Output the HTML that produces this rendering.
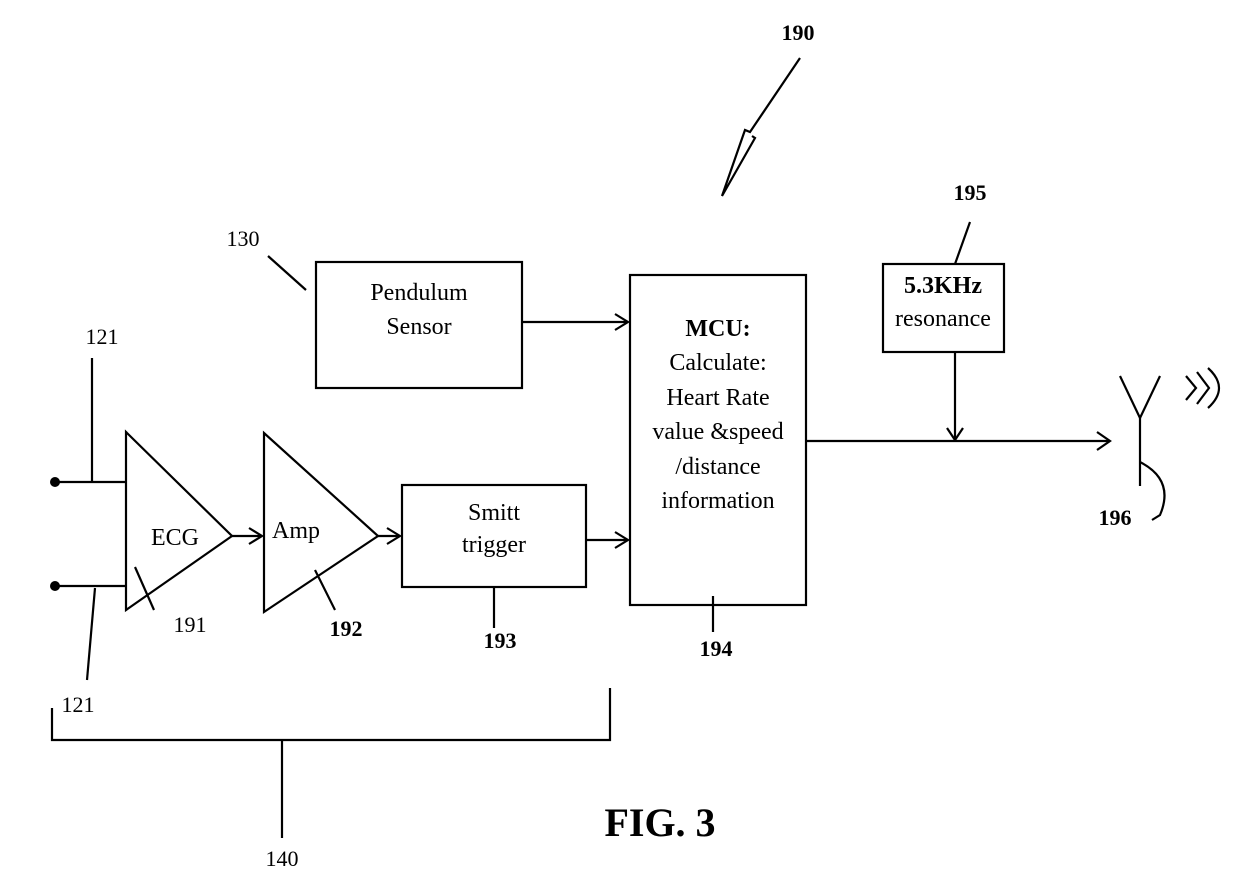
<!DOCTYPE html>
<html><head><style>body{margin:0;background:#fff}svg{display:block}text{font-family:"Liberation Serif",serif;fill:#000}</style></head><body>
<svg width="1240" height="880" viewBox="0 0 1240 880" xmlns="http://www.w3.org/2000/svg">
<g stroke="#000" stroke-width="2.2" fill="none">
<rect x="316" y="262" width="206" height="126"/>
<rect x="630" y="275" width="176" height="330"/>
<rect x="883" y="264" width="121" height="88"/>
<rect x="402" y="485" width="184" height="102"/>
<polygon points="126,432 126,610 232,536"/>
<polygon points="264,433 264,612 378,536"/>
<line x1="55" y1="482" x2="126" y2="482"/>
<line x1="55" y1="586" x2="126" y2="586"/>
<line x1="92" y1="358" x2="92" y2="482"/>
<line x1="95" y1="588" x2="87" y2="680"/>
<line x1="232" y1="536" x2="262" y2="536"/><polyline points="249,528 262,536 249,544"/>
<line x1="378" y1="536" x2="400" y2="536"/><polyline points="387,528 400,536 387,544"/>
<line x1="586" y1="540" x2="628" y2="540"/><polyline points="615,532 628,540 615,548"/>
<line x1="522" y1="322" x2="628" y2="322"/><polyline points="615,314 628,322 615,330"/>
<line x1="806" y1="441" x2="1110" y2="441"/><polyline points="1097,432 1110,441 1097,450"/>
<line x1="955" y1="352" x2="955" y2="440"/><polyline points="947,428 955,440 963,428"/>
<line x1="1120" y1="376" x2="1140" y2="418"/><line x1="1160" y1="376" x2="1140" y2="418"/><line x1="1140" y1="418" x2="1140" y2="486"/>
<path d="M1140,462 Q1175,480 1160,515 L1152,520"/>
<path d="M1186,376 L1196,388 L1186,400"/><path d="M1197,372 L1209,388 L1197,404"/><path d="M1208,368 Q1230,388 1208,408"/>
<line x1="306" y1="290" x2="268" y2="256"/>
<line x1="135" y1="567" x2="154" y2="610"/>
<line x1="315" y1="570" x2="335" y2="610"/>
<line x1="494" y1="587" x2="494" y2="628"/>
<line x1="713" y1="596" x2="713" y2="632"/>
<line x1="970" y1="222" x2="955" y2="264"/>
<polyline points="800,58 750,132 745,130 722,196 755,138 752,136"/>
<polyline points="52,708 52,740 610,740 610,688"/>
<line x1="282" y1="740" x2="282" y2="838"/>
</g>
<circle cx="55" cy="482" r="5"/><circle cx="55" cy="586" r="5"/>
<g font-size="24" text-anchor="middle">
<text x="419" y="300">Pendulum</text><text x="419" y="334">Sensor</text>
<text x="718" y="336" font-weight="bold">MCU:</text>
<text x="718" y="370">Calculate:</text><text x="718" y="405">Heart Rate</text>
<text x="718" y="439">value &amp;speed</text><text x="718" y="474">/distance</text><text x="718" y="508">information</text>
<text x="943" y="293" font-weight="bold">5.3KHz</text><text x="943" y="326">resonance</text>
<text x="494" y="520">Smitt</text><text x="494" y="552">trigger</text>
<text x="175" y="545">ECG</text><text x="296" y="538">Amp</text>
</g>
<g font-size="22" text-anchor="middle">
<text x="798" y="40" font-weight="bold">190</text>
<text x="243" y="246">130</text>
<text x="102" y="344">121</text>
<text x="78" y="712">121</text>
<text x="190" y="632">191</text>
<text x="346" y="636" font-weight="bold">192</text>
<text x="500" y="648" font-weight="bold">193</text>
<text x="716" y="656" font-weight="bold">194</text>
<text x="970" y="200" font-weight="bold">195</text>
<text x="1115" y="525" font-weight="bold">196</text>
<text x="282" y="866">140</text>
</g>
<text x="660" y="836" font-size="40" font-weight="bold" text-anchor="middle">FIG. 3</text>
</svg>
</body></html>
